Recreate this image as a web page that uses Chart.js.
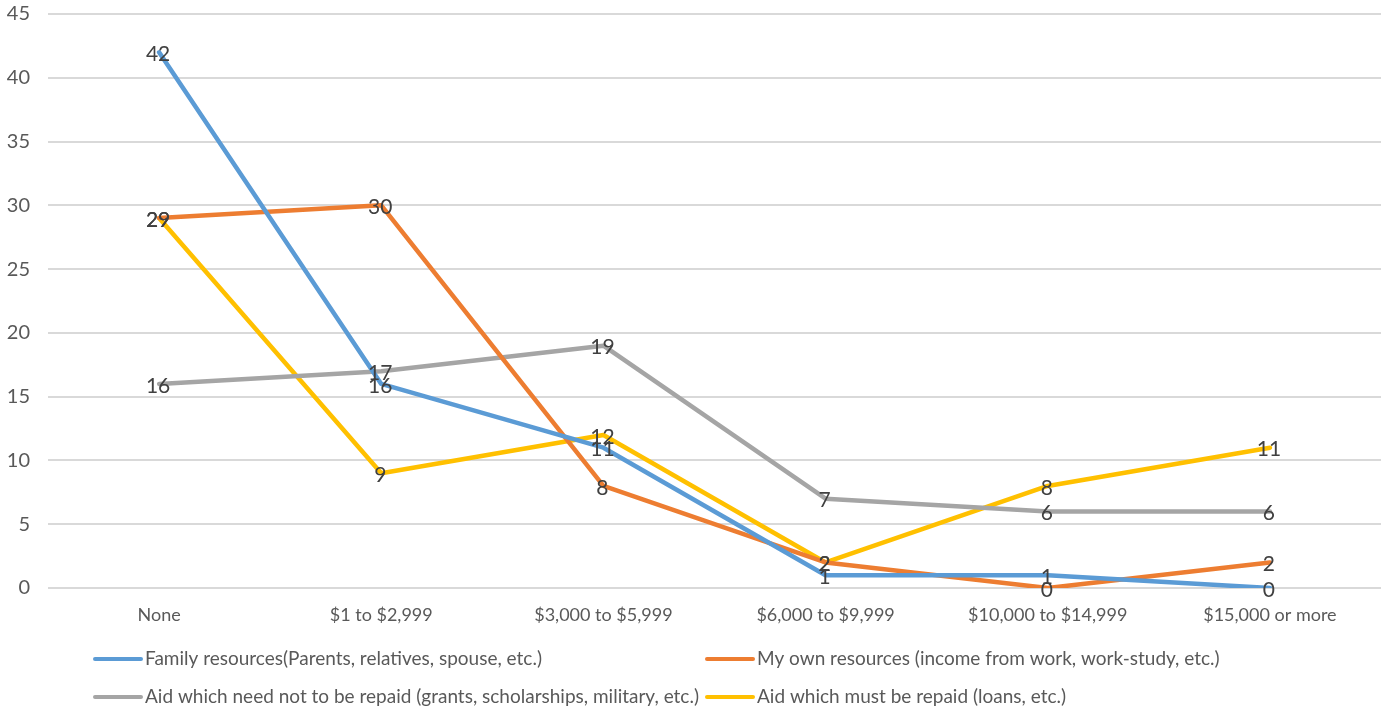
<!DOCTYPE html>
<html>
<head>
<meta charset="utf-8">
<script src="https://cdn.jsdelivr.net/npm/chart.js@4/dist/chart.umd.min.js"></script>
<style>
html,body{margin:0;padding:0;background:#fff;}
#wrap{position:relative;width:1387px;height:713px;}
</style>
</head>
<body>
<div id="wrap"><canvas id="c" width="1387" height="713"></canvas></div>
<script>
const categories = ["None", "$1 to $2,999", "$3,000 to $5,999", "$6,000 to $9,999", "$10,000 to $14,999", "$15,000 or more"];
const seriesNames = [
  "Family resources(Parents, relatives, spouse, etc.)",
  "My own resources (income from work, work-study, etc.)",
  "Aid which need not to be repaid (grants, scholarships, military, etc.)",
  "Aid which must be repaid (loans, etc.)"
];
const familyValues = [42, 16, 11, 1, 1, 0];
const ownValues = [29, 30, 8, 2, 0, 2];
const grantValues = [16, 17, 19, 7, 6, 6];
const loanValues = [29, 9, 12, 2, 8, 11];
const yTicks = [0, 5, 10, 15, 20, 25, 30, 35, 40, 45];
const colors = ["#5B9BD5", "#ED7D31", "#A5A5A5", "#FFC000"];

const FONT = "Lato, 'Open Sans', sans-serif";

const dataLabels = {
  id: 'dataLabels',
  afterDatasetsDraw(chart) {
    const ctx = chart.ctx;
    ctx.save();
    ctx.font = "21px " + FONT;
    ctx.fillStyle = "#404040";
    ctx.textAlign = "center";
    ctx.textBaseline = "middle";
    chart.data.datasets.forEach((ds, i) => {
      const meta = chart.getDatasetMeta(i);
      meta.data.forEach((pt, j) => {
        ctx.fillText(String(ds.data[j]), pt.x - 1, pt.y + 2);
      });
    });
    ctx.restore();
  }
};

const gridLegend = {
  id: 'gridLegend',
  afterDraw(chart) {
    const ctx = chart.ctx;
    const cols = [93, 705];
    const rows = [659, 697];
    ctx.save();
    ctx.font = "19px " + FONT;
    ctx.textBaseline = "middle";
    ctx.textAlign = "left";
    chart.data.datasets.forEach((ds, i) => {
      const x = cols[i % 2], y = rows[Math.floor(i / 2)];
      ctx.strokeStyle = ds.borderColor;
      ctx.lineWidth = 4;
      ctx.lineCap = "round";
      ctx.beginPath();
      ctx.moveTo(x + 2, y);
      ctx.lineTo(x + 48, y);
      ctx.stroke();
      ctx.fillStyle = "#595959";
      ctx.fillText(ds.label, x + 52, y);
    });
    ctx.restore();
  }
};

const allValues = [familyValues, ownValues, grantValues, loanValues];

new Chart(document.getElementById('c'), {
  type: 'line',
  data: {
    labels: categories,
    datasets: allValues.map((v, i) => ({
      label: seriesNames[i],
      data: v,
      borderColor: colors[i],
      backgroundColor: colors[i],
      borderWidth: 4.5,
      pointRadius: 0,
      tension: 0,
      borderCapStyle: 'round',
      borderJoinStyle: 'round',
      fill: false
    }))
  },
  options: {
    responsive: false,
    animation: false,
    layout: { padding: { top: 14, right: 6, left: 0, bottom: 0 } },
    plugins: { legend: { display: false }, tooltip: { enabled: false } },
    scales: {
      x: {
        offset: true,
        grid: { display: false, drawTicks: false },
        border: { display: false },
        ticks: { color: "#595959", font: { family: FONT, size: 18 }, padding: 16, maxRotation: 0 },
        afterFit(s) { s.height = 125; s.paddingLeft = 0; s.paddingRight = 0; }
      },
      y: {
        min: 0, max: 45,
        afterBuildTicks(s) { s.ticks = yTicks.map(v => ({ value: v })); },
        grid: { color: "#D9D9D9", lineWidth: 2, drawTicks: false },
        border: { display: false },
        ticks: { color: "#595959", font: { family: FONT, size: 20 }, padding: 18 },
        afterFit(s) { s.width = 48; s.paddingTop = 0; s.paddingBottom = 0; }
      }
    }
  },
  plugins: [dataLabels, gridLegend]
});
</script>
</body>
</html>
